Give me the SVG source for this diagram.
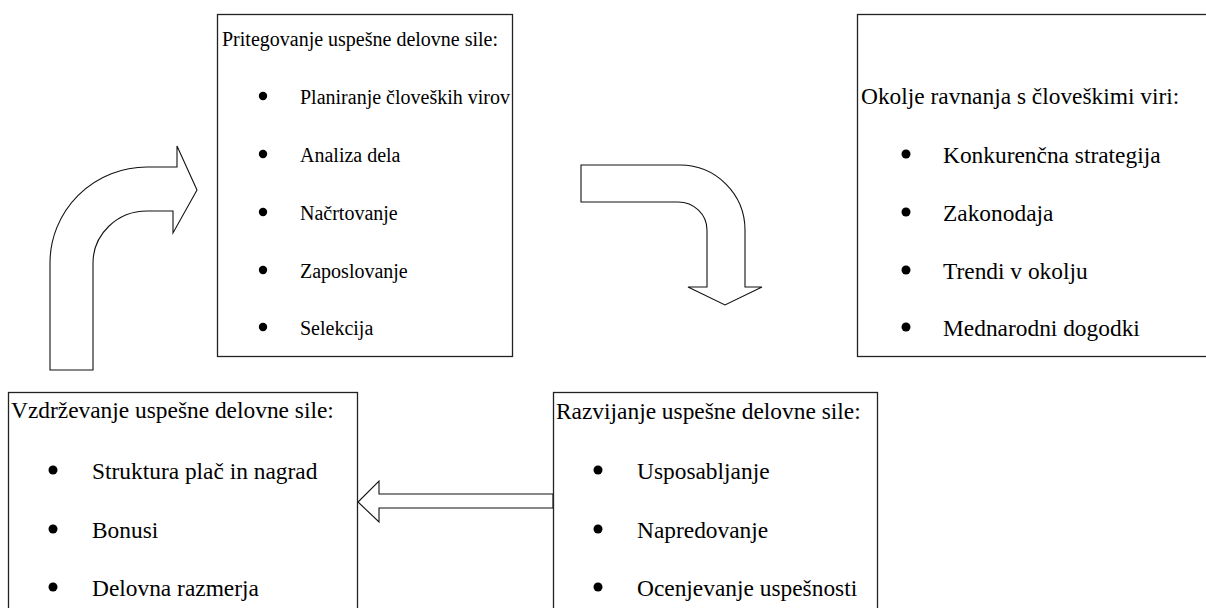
<svg xmlns="http://www.w3.org/2000/svg" width="1206" height="608" viewBox="0 0 1206 608">
  <style>
    .box { fill: #ffffff; stroke: #222; stroke-width: 1.3; }
    .arrow { fill: #ffffff; stroke: #111; stroke-width: 1.1; stroke-linejoin: miter; }
    text { font-family: "Liberation Serif", "Times New Roman", serif; font-size: 23.4px; fill: #000; }
    .small text { font-size: 20px; }
    .dot { fill: #000; }
  </style>

  <!-- block arrows between the stages -->
  <g id="connectors">
    <path class="arrow" d="M 50 370 L 50 263 A 97 96 0 0 1 147 167 L 177 167 L 177 146 L 197 190 L 173 233 L 173 211 L 147 211 A 54 52 0 0 0 93 263 L 93 370 Z"/>
    <path class="arrow" d="M 581 165 L 680 165 A 65 65 0 0 1 745 230 L 745 287 L 762 287 L 725 305 L 688 287 L 707 287 L 707 230 A 29 28 0 0 0 678 202 L 581 202 Z"/>
    <path class="arrow" d="M 553 494 L 379 494 L 379 481 L 358 502 L 379 522 L 379 508 L 553 508 Z"/>
  </g>

  <!-- attracting the workforce -->
  <g id="pritegovanje" class="small">
    <rect class="box" x="217.5" y="14.5" width="295" height="342"/>
    <text x="222" y="46">Pritegovanje uspešne delovne sile:</text>
    <circle class="dot" cx="263" cy="96" r="4.2"/>
    <text x="300" y="104">Planiranje človeških virov</text>
    <circle class="dot" cx="263" cy="154" r="4.2"/>
    <text x="300" y="162">Analiza dela</text>
    <circle class="dot" cx="263" cy="212" r="4.2"/>
    <text x="300" y="220">Načrtovanje</text>
    <circle class="dot" cx="263" cy="270" r="4.2"/>
    <text x="300" y="278">Zaposlovanje</text>
    <circle class="dot" cx="263" cy="327" r="4.2"/>
    <text x="300" y="335">Selekcija</text>
  </g>

  <!-- HR environment -->
  <g id="okolje">
    <rect class="box" x="857.5" y="14.5" width="355" height="342"/>
    <text x="861" y="104">Okolje ravnanja s človeškimi viri:</text>
    <circle class="dot" cx="906" cy="154" r="4.5"/>
    <text x="943" y="163">Konkurenčna strategija</text>
    <circle class="dot" cx="906" cy="212" r="4.5"/>
    <text x="943" y="221">Zakonodaja</text>
    <circle class="dot" cx="906" cy="270" r="4.5"/>
    <text x="943" y="279">Trendi v okolju</text>
    <circle class="dot" cx="906" cy="327" r="4.5"/>
    <text x="943" y="336">Mednarodni dogodki</text>
  </g>

  <!-- maintaining the workforce -->
  <g id="vzdrzevanje">
    <rect class="box" x="8.5" y="392.5" width="349" height="230"/>
    <text x="11" y="418">Vzdrževanje uspešne delovne sile:</text>
    <circle class="dot" cx="53" cy="470" r="4.5"/>
    <text x="92" y="479">Struktura plač in nagrad</text>
    <circle class="dot" cx="53" cy="529" r="4.5"/>
    <text x="92" y="538">Bonusi</text>
    <circle class="dot" cx="53" cy="587" r="4.5"/>
    <text x="92" y="596">Delovna razmerja</text>
  </g>

  <!-- developing the workforce -->
  <g id="razvijanje">
    <rect class="box" x="553.5" y="392.5" width="324" height="230"/>
    <text x="556" y="419">Razvijanje uspešne delovne sile:</text>
    <circle class="dot" cx="598" cy="470" r="4.5"/>
    <text x="637" y="479">Usposabljanje</text>
    <circle class="dot" cx="598" cy="529" r="4.5"/>
    <text x="637" y="538">Napredovanje</text>
    <circle class="dot" cx="598" cy="587" r="4.5"/>
    <text x="637" y="596">Ocenjevanje uspešnosti</text>
  </g>
</svg>
